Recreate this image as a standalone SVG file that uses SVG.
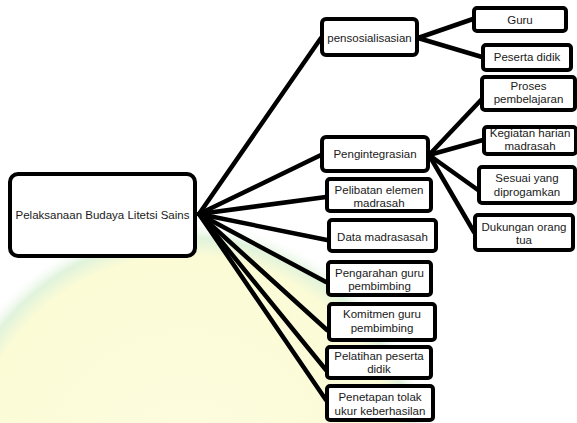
<svg xmlns="http://www.w3.org/2000/svg" width="577" height="423" viewBox="0 0 577 423">
<style>
.bx{fill:#fff;stroke:#000;stroke-width:4}
.t{font-family:"Liberation Sans",Arial,sans-serif;font-size:11.5px;fill:#1a1a1a;text-anchor:middle;dominant-baseline:central}
.c{stroke:#000;stroke-width:4.5;fill:none;stroke-linecap:round}
</style>
<defs>
<radialGradient id="wm" cx="185" cy="470" r="250" gradientUnits="userSpaceOnUse">
<stop offset="0" stop-color="#fdfde0"/>
<stop offset="0.86" stop-color="#fbfbd6"/>
<stop offset="0.93" stop-color="#e0f3dc"/>
<stop offset="1" stop-color="#ffffff" stop-opacity="0"/>
</radialGradient>
</defs>
<rect width="577" height="423" fill="#fff"/>
<circle cx="185" cy="470" r="250" fill="url(#wm)"/>
<g id="connectors">
<line class="c" x1="199" y1="214" x2="321" y2="38"/>
<line class="c" x1="199" y1="214" x2="321" y2="155"/>
<line class="c" x1="199" y1="214" x2="326" y2="197"/>
<line class="c" x1="199" y1="214" x2="327" y2="240"/>
<line class="c" x1="199" y1="214" x2="326" y2="282"/>
<line class="c" x1="199" y1="214" x2="327" y2="330"/>
<line class="c" x1="199" y1="214" x2="326" y2="370"/>
<line class="c" x1="199" y1="214" x2="326" y2="400"/>
<line class="c" x1="418" y1="38" x2="473" y2="19"/>
<line class="c" x1="418" y1="38" x2="482" y2="57"/>
<line class="c" x1="429" y1="155" x2="481" y2="100"/>
<line class="c" x1="429" y1="155" x2="483" y2="140"/>
<line class="c" x1="429" y1="155" x2="478" y2="190"/>
<line class="c" x1="429" y1="155" x2="474" y2="232"/>
</g>
<g id="root"><rect class="bx" x="10" y="174" width="185" height="82" rx="8"/><text class="t" x="102.5" y="215">Pelaksanaan Budaya Litetsi Sains</text></g>
<g id="pensosialisasian"><rect class="bx" x="322" y="19" width="95" height="36" rx="4"/><text class="t" x="369.5" y="38">pensosialisasian</text></g>
<g id="guru"><rect class="bx" x="474" y="8" width="92" height="23" rx="3"/><text class="t" x="520" y="20">Guru</text></g>
<g id="peserta-didik"><rect class="bx" x="483" y="45" width="88" height="25" rx="3"/><text class="t" x="527" y="57">Peserta didik</text></g>
<g id="proses"><rect class="bx" x="482" y="77" width="93" height="33" rx="3"/><text class="t" x="528.5" y="86">Proses</text><text class="t" x="528.5" y="99">pembelajaran</text></g>
<g id="kegiatan"><rect class="bx" x="484" y="127" width="92" height="27" rx="3"/><text class="t" x="530" y="133">Kegiatan harian</text><text class="t" x="530" y="146">madrasah</text></g>
<g id="sesuai"><rect class="bx" x="479" y="167" width="96" height="36" rx="3"/><text class="t" x="527" y="178">Sesuai yang</text><text class="t" x="527" y="192">diprogamkan</text></g>
<g id="dukungan"><rect class="bx" x="475" y="215" width="98" height="35" rx="3"/><text class="t" x="524" y="227">Dukungan orang</text><text class="t" x="524" y="240">tua</text></g>
<g id="pengintegrasian"><rect class="bx" x="322" y="137" width="106" height="34" rx="4"/><text class="t" x="375" y="154">Pengintegrasian</text></g>
<g id="pelibatan"><rect class="bx" x="327" y="179" width="104" height="32" rx="3"/><text class="t" x="379" y="190">Pelibatan elemen</text><text class="t" x="379" y="203">madrasah</text></g>
<g id="data"><rect class="bx" x="329" y="220" width="107" height="31" rx="3"/><text class="t" x="382.5" y="237">Data madrasasah</text></g>
<g id="pengarahan"><rect class="bx" x="328" y="262" width="103" height="33" rx="3"/><text class="t" x="379.5" y="273">Pengarahan guru</text><text class="t" x="379.5" y="286">pembimbing</text></g>
<g id="komitmen"><rect class="bx" x="329" y="304" width="106" height="36" rx="3"/><text class="t" x="382" y="314">Komitmen guru</text><text class="t" x="382" y="328">pembimbing</text></g>
<g id="pelatihan"><rect class="bx" x="327" y="347" width="104" height="31" rx="3"/><text class="t" x="379" y="356">Pelatihan peserta</text><text class="t" x="379" y="369">didik</text></g>
<g id="penetapan"><rect class="bx" x="327" y="386" width="106" height="34" rx="3"/><text class="t" x="380" y="397">Penetapan tolak</text><text class="t" x="380" y="411">ukur keberhasilan</text></g>
</svg>
